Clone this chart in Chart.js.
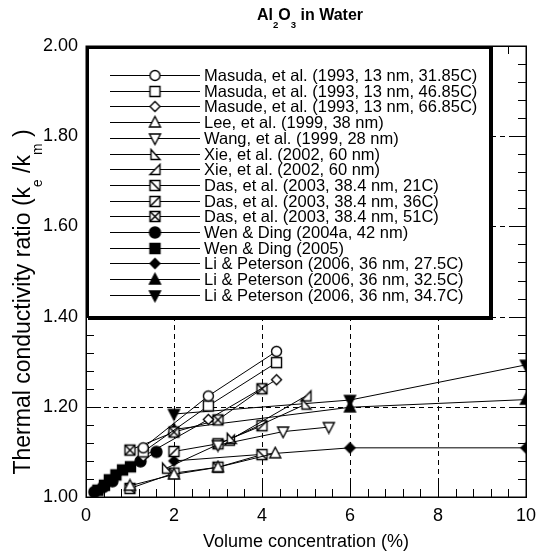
<!DOCTYPE html>
<html>
<head>
<meta charset="utf-8">
<script src="https://cdn.jsdelivr.net/npm/chart.js@4.4.1/dist/chart.umd.min.js"></script>
<style>
  html, body { margin: 0; padding: 0; background: #fff; }
  #wrap { width: 544px; height: 552px; }
</style>
</head>
<body>
<div id="wrap"><canvas id="chart" width="544" height="552"></canvas></div>
<script>
const FONT = '"Liberation Sans", Arial, Helvetica, sans-serif';

// axis ticks
const xTicks = [0, 2, 4, 6, 8, 10];
const yTicks = [1.0, 1.2, 1.4, 1.6, 1.8, 2.0];
const xGrid = [2, 4, 6, 8];
const yGrid = [1.2, 1.4, 1.6, 1.8];

// Masuda et al. (1993)
const masudaX = [1.3, 2.78, 4.33];
const masuda3185 = [1.109, 1.224, 1.323];
const masuda4685 = [1.100, 1.202, 1.298];
const masuda6685 = [1.090, 1.172, 1.260];
// Lee (1999), Wang (1999)
const leeX = [1.0, 2.0, 3.0, 4.3];
const leeY = [1.025, 1.050, 1.066, 1.097];
const wangX = [3.0, 4.48, 5.52];
const wangY = [1.115, 1.145, 1.155];
// Xie (2002)
const xieAX = [1.83, 3.3, 5.0];
const xieAY = [1.064, 1.130, 1.206];
const xieBX = [3.26, 5.0];
const xieBY = [1.126, 1.224];
// Das (2003)
const dasX = [1, 2, 3, 4];
const das21 = [1.019, 1.053, 1.066, 1.094];
const das36X = [2, 3, 4];
const das36 = [1.101, 1.118, 1.158];
const das51 = [1.104, 1.144, 1.171, 1.240];
// Wen & Ding
const wen04X = [0.19, 0.39, 0.6, 1.24, 1.6];
const wen04Y = [1.011, 1.022, 1.035, 1.079, 1.100];
const wen05X = [0.27, 0.42, 0.53, 0.68, 0.83, 1.01];
const wen05Y = [1.015, 1.026, 1.038, 1.049, 1.060, 1.067];
// Li & Peterson (2006)
const liX = [2, 6, 10];
const li275 = [1.080, 1.109, 1.109];
const li325 = [1.150, 1.199, 1.216];
const li347 = [1.184, 1.215, 1.293];

function marker(kind, filled) {
  const c = document.createElement('canvas');
  c.width = 15; c.height = 15;
  const g = c.getContext('2d');
  g.translate(7.5, 7.5);
  g.lineWidth = 1.4;
  g.strokeStyle = '#000';
  g.fillStyle = filled ? '#000' : '#fff';
  g.beginPath();
  if (kind === 'circle') g.arc(0, 0, filled ? 5.5 : 5, 0, Math.PI * 2);
  else if (kind === 'square' || kind.startsWith('sq')) g.rect(-5, -5, 10, 10);
  else if (kind === 'diamond') { g.moveTo(0, -5); g.lineTo(5, 0); g.lineTo(0, 5); g.lineTo(-5, 0); g.closePath(); }
  else if (kind === 'triUp') { g.moveTo(0, -6); g.lineTo(5.5, 4.5); g.lineTo(-5.5, 4.5); g.closePath(); }
  else if (kind === 'triDown') { g.moveTo(0, 6); g.lineTo(5.5, -4.5); g.lineTo(-5.5, -4.5); g.closePath(); }
  else if (kind === 'rtA') { g.moveTo(-4, -5); g.lineTo(5, 5); g.lineTo(-4, 5); g.closePath(); }
  else if (kind === 'rtB') { g.moveTo(5, -5); g.lineTo(5, 5); g.lineTo(-5, 5); g.closePath(); }
  g.fill();
  g.stroke();
  if (kind === 'sqBack' || kind === 'sqX') { g.beginPath(); g.moveTo(-5, -5); g.lineTo(5, 5); g.stroke(); }
  if (kind === 'sqFwd' || kind === 'sqX') { g.beginPath(); g.moveTo(5, -5); g.lineTo(-5, 5); g.stroke(); }
  return c;
}

function series(label, xs, ys, kind, filled) {
  return {
    label,
    data: xs.map((x, i) => ({ x, y: ys[i] })),
    showLine: true,
    borderColor: '#000',
    borderWidth: 1,
    backgroundColor: '#000',
    pointStyle: marker(kind, filled),
    pointRadius: 6,
    pointHoverRadius: 6,
    tension: 0
  };
}

const datasets = [
  series('Masuda, et al. (1993, 13 nm, 31.85C)', masudaX, masuda3185, 'circle', false),
  series('Masuda, et al. (1993, 13 nm, 46.85C)', masudaX, masuda4685, 'square', false),
  series('Masude, et al. (1993, 13 nm, 66.85C)', masudaX, masuda6685, 'diamond', false),
  series('Lee, et al. (1999, 38 nm)', leeX, leeY, 'triUp', false),
  series('Wang, et al. (1999, 28 nm)', wangX, wangY, 'triDown', false),
  series('Xie, et al. (2002, 60 nm)', xieAX, xieAY, 'rtA', false),
  series('Xie, et al. (2002, 60 nm)', xieBX, xieBY, 'rtB', false),
  series('Das, et al. (2003, 38.4 nm, 21C)', dasX, das21, 'sqBack', false),
  series('Das, et al. (2003, 38.4 nm, 36C)', das36X, das36, 'sqFwd', false),
  series('Das, et al. (2003, 38.4 nm, 51C)', dasX, das51, 'sqX', false),
  series('Wen & Ding (2004a, 42 nm)', wen04X, wen04Y, 'circle', true),
  series('Wen & Ding (2005)', wen05X, wen05Y, 'square', true),
  series('Li & Peterson (2006, 36 nm, 27.5C)', liX, li275, 'diamond', true),
  series('Li & Peterson (2006, 36 nm, 32.5C)', liX, li325, 'triUp', true),
  series('Li & Peterson (2006, 36 nm, 34.7C)', liX, li347, 'triDown', true)
];

// draws text pieces, subscripts lowered
function drawRich(ctx, parts, size, bold, x, y, align) {
  const f = (s) => (bold ? 'bold ' : '') + s + 'px ' + FONT;
  let w = 0;
  parts.forEach(p => { ctx.font = f(p[1] ? size * 0.6 : size); w += ctx.measureText(p[0]).width; });
  let cx = align === 'center' ? x - w / 2 : x;
  ctx.textAlign = 'left';
  ctx.textBaseline = 'alphabetic';
  parts.forEach(p => {
    ctx.font = f(p[1] ? size * 0.6 : size);
    ctx.fillText(p[0], cx, y + (p[1] ? size * 0.5 : 0));
    cx += ctx.measureText(p[0]).width;
  });
}

const decor = {
  id: 'decor',
  beforeDatasetsDraw(chart) {
    const { ctx, chartArea: a, scales: { x, y } } = chart;
    ctx.save();
    ctx.strokeStyle = '#000';
    ctx.lineWidth = 1;
    ctx.setLineDash([5, 4]);
    ctx.beginPath();
    xGrid.forEach(v => {
      const px = Math.round(x.getPixelForValue(v)) + 0.5;
      ctx.moveTo(px, a.top); ctx.lineTo(px, a.bottom);
    });
    yGrid.forEach(v => {
      const py = Math.round(y.getPixelForValue(v)) + 0.5;
      ctx.moveTo(a.left, py); ctx.lineTo(a.right, py);
    });
    ctx.stroke();
    ctx.restore();
  },
  afterDatasetsDraw(chart) {
    const { ctx, chartArea: a, scales: { x, y } } = chart;
    ctx.save();
    ctx.strokeStyle = '#000';
    ctx.lineWidth = 1;
    // ticks, inward on all sides
    ctx.beginPath();
    for (let i = 0; i <= 25; i++) {
      const v = i * 0.4;
      const px = Math.round(x.getPixelForValue(v)) + 0.5;
      const len = i % 5 === 0 ? 15 : 8;
      ctx.moveTo(px, a.bottom); ctx.lineTo(px, a.bottom - len);
      ctx.moveTo(px, a.top); ctx.lineTo(px, a.top + len);
    }
    for (let i = 0; i <= 25; i++) {
      const v = 1 + i * 0.04;
      const py = Math.round(y.getPixelForValue(v)) + 0.5;
      const len = i % 5 === 0 ? 15 : 8;
      ctx.moveTo(a.left, py); ctx.lineTo(a.left + len, py);
      ctx.moveTo(a.right, py); ctx.lineTo(a.right - len, py);
    }
    ctx.stroke();
    ctx.lineWidth = 1.5;
    ctx.strokeRect(Math.round(a.left) + 0.25, Math.round(a.top) + 0.25, Math.round(a.right - a.left), Math.round(a.bottom - a.top));

    // legend box
    const L = 88, T = 47, R = 490, B = 317;
    ctx.fillStyle = '#fff';
    ctx.fillRect(L, T, R - L, B - T);
    ctx.fillStyle = '#000';
    ctx.lineWidth = 2;
    ctx.strokeRect(L, T, R - L, B - T);
    ctx.fillRect(R - 1, T, 4, B - T + 3);
    ctx.fillRect(L, B - 1, R - L + 3, 4);
    ctx.fillRect(L, T - 1, R - L, 3);

    ctx.lineWidth = 1;
    ctx.font = '16.5px ' + FONT;
    ctx.textBaseline = 'middle';
    ctx.textAlign = 'left';
    chart.data.datasets.forEach((ds, i) => {
      const ry = Math.round(75 + i * 15.7) + 0.5;
      ctx.beginPath();
      ctx.moveTo(110, ry); ctx.lineTo(200, ry);
      ctx.stroke();
      const m = ds.pointStyle;
      ctx.drawImage(m, 155 - m.width / 2, ry - m.height / 2);
      ctx.fillText(ds.label, 204, ry + 1);
    });
    ctx.restore();
  },
  afterDraw(chart) {
    const { ctx, chartArea: a } = chart;
    ctx.save();
    ctx.fillStyle = '#000';
    drawRich(ctx, [['Al', 0], ['2', 1], ['O', 0], ['3', 1], [' in Water', 0]], 16, true, 310, 20, 'center');
    drawRich(ctx, [['Volume concentration (%)', 0]], 18, false, (a.left + a.right) / 2, 547, 'center');
    ctx.translate(30, 302);
    ctx.rotate(-Math.PI / 2);
    drawRich(ctx, [['Thermal conductivity ratio (k', 0], ['e', 1], [' /k', 0], ['m', 1], [' )', 0]], 23, false, 0, 0, 'center');
    ctx.restore();
  }
};

new Chart(document.getElementById('chart'), {
  type: 'scatter',
  data: { datasets },
  plugins: [decor],
  options: {
    responsive: false,
    animation: false,
    devicePixelRatio: 1,
    layout: { padding: { top: 46, right: 8, left: 0, bottom: 0 } },
    plugins: { legend: { display: false }, tooltip: { enabled: false }, title: { display: false } },
    scales: {
      x: {
        type: 'linear', min: 0, max: 10,
        afterBuildTicks: (s) => { s.ticks = xTicks.map(v => ({ value: v })); },
        afterFit: (s) => { s.height = 55; },
        ticks: { color: '#000', font: { family: FONT, size: 18 }, padding: 8, maxRotation: 0 },
        grid: { display: false, drawTicks: false },
        border: { display: false }
      },
      y: {
        type: 'linear', min: 1, max: 2,
        afterBuildTicks: (s) => { s.ticks = yTicks.map(v => ({ value: v })); },
        afterFit: (s) => { s.width = 86; },
        ticks: { color: '#000', font: { family: FONT, size: 18 }, padding: 8, callback: (v) => v.toFixed(2) },
        grid: { display: false, drawTicks: false },
        border: { display: false }
      }
    }
  }
});
</script>
</body>
</html>
